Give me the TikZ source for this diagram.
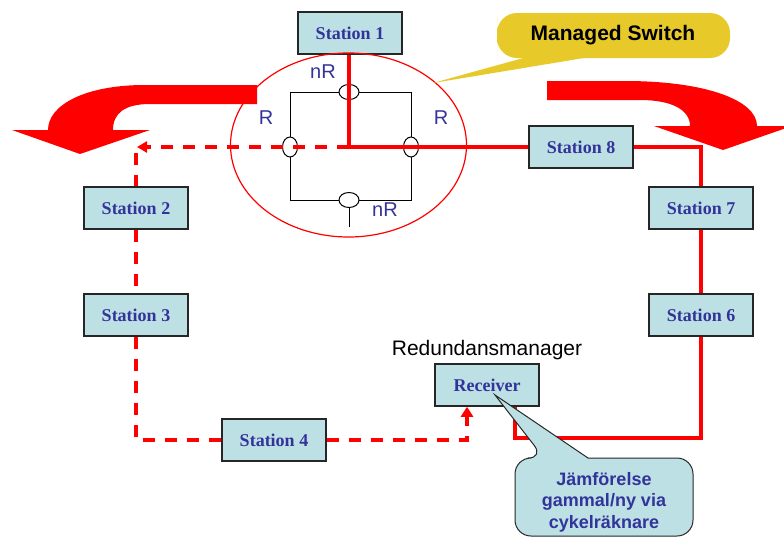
\documentclass[tikz,border=0pt]{standalone}
\usepackage{fontspec}
\setmainfont{Liberation Serif}
\setsansfont{Liberation Sans}
\usetikzlibrary{positioning,arrows.meta}
\definecolor{boxfill}{HTML}{BCE0E4}
\definecolor{labelblue}{HTML}{333399}
\definecolor{noteyellow}{HTML}{E8C92A}
\tikzset{
  station/.style={draw=black!85, line width=1.5pt, fill=boxfill, minimum width=104pt,
    minimum height=42pt, inner sep=0pt, text=labelblue, font=\fontsize{18}{20}\selectfont\bfseries},
  ring/.style={red, line width=4pt},
  backup/.style={red, line width=4pt, dash pattern=on 12pt off 10pt},
  port/.style={draw=black, fill=white, line width=1pt},
  portlabel/.style={text=labelblue, font=\sffamily\fontsize{20}{22}\selectfont},
  bigarrow/.style={fill=red, draw=none}
}

\begin{document}
\begin{tikzpicture}[x=1pt,y=-1pt]
\useasboundingbox (0,0) rectangle (784,538);
\clip (0,0) rectangle (784,538);

\node[station] (S1) at (350,33) {Station 1};
\node[station] (S8) at (581,147) {Station 8};
\node[station] (S7) at (701,208) {Station 7};
\node[station] (S6) at (701,315) {Station 6};
\node[station] (S2) at (136,208) {Station 2};
\node[station] (S3) at (136,315) {Station 3};
\node[station] (S4) at (274,440) {Station 4};
\node[station] (Rx) at (487,385) {Receiver};
\node[above=0pt of Rx, font=\sffamily\fontsize{21}{23}\selectfont] (RxLabel) {Redundansmanager};

% managed switch
\coordinate (swc) at (348.5,145);
\coordinate (hub) at (349,147);
\draw[red, line width=1.2pt] (swc) ellipse [x radius=118pt, y radius=92pt];
\draw[black, line width=1pt] (290,92) rectangle (411,200);
\draw[black, line width=1pt] (349,200) -- (349,227);
\draw[port] (349,92) ellipse [x radius=10pt, y radius=7.5pt];
\draw[port] (349,200) ellipse [x radius=10pt, y radius=7.5pt];
\draw[port] (290,147) ellipse [x radius=7.5pt, y radius=10pt];
\draw[port] (411,147) ellipse [x radius=7.5pt, y radius=10pt];
\node[portlabel] (nRtop) at (323,72) {nR};
\node[portlabel] (Rleft) at (266,118) {R};
\node[portlabel] (Rright) at (441,118) {R};
\node[portlabel] (nRbot) at (385,210) {nR};

% active ring
\coordinate (rxin) at (515,438);
\draw[ring] (S1.south -| hub) -- (hub) -- (S8.west);
\draw[ring] (S8.east) -| (S7.north);
\draw[ring] (S7) -- (S6);
\draw[ring] (S6.south) |- (rxin) -- (rxin |- Rx.south);

% backup path
\coordinate (lefttip) at (137,147);
\coordinate (leftdown) at (136,153);
\coordinate (rxout) at (467,442);
\draw[backup, -{Triangle[width=11pt,length=10pt]}] (hub) -- (lefttip);
\draw[backup] (leftdown) -- (S2.north);
\draw[backup] (S2) -- (S3);
\draw[backup] (S3.south) |- (S4.west);
\draw[backup, -{Triangle[width=12pt,length=10pt]}] (S4.east) -| (rxout |- Rx.south);

% big direction arrows
\path[bigarrow] (257,85) -- (145,85) .. controls (85,85) and (48,105) .. (48,130)
  -- (12,130) -- (80,154) -- (150,130) -- (113,130)
  .. controls (113,113) and (125,104) .. (150,104) -- (257,104) -- cycle;
\path[bigarrow] (547,81) -- (625,81) .. controls (705,81) and (757,100) .. (757,126)
  -- (792,126) -- (723,150) -- (654,126) -- (690,126)
  .. controls (690,110) and (672,100) .. (640,100) -- (547,100) -- cycle;

% callouts
\path[fill=noteyellow] [rounded corners=20pt] (497,36) |- (560,13) -| (730,58) -| (497,36) -- cycle;
\path[fill=noteyellow] (527,57) -- (433,83) -- (590,57) -- cycle;
\node[font=\sffamily\bfseries\fontsize{21}{23}\selectfont] (SwitchNote) at (613,35) {Managed Switch};

\draw[fill=boxfill, draw=black!85, line width=1pt] [rounded corners=16pt] (515,497) |- (544,458)
  [sharp corners] -- (495,395) -- (588,458) [rounded corners=16pt] -| (693,536) -| (515,497) -- cycle;
\node[text=labelblue, align=center, font=\sffamily\bfseries\fontsize{18}{21.5}\selectfont] (RxNote) at (604,502)
  {Jämförelse\\gammal/ny via\\cykelräknare};
\end{tikzpicture}
\end{document}
